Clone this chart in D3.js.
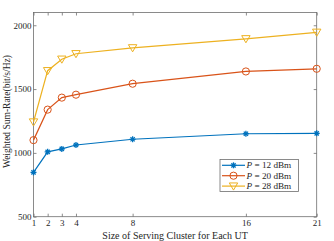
<!DOCTYPE html>
<html><head><meta charset="utf-8">
<script src="https://cdn.jsdelivr.net/npm/d3@7"></script>
<style>body{margin:0;background:#fff}svg{display:block}text{font-family:"Liberation Serif","Times New Roman",serif;fill:#262626}</style>
</head><body>
<script>
const clusterSizes = [1, 2, 3, 4, 8, 16, 21];
const seriesNames = ["12", "20", "28"];
const rateP12 = [847, 1008, 1031, 1062, 1107, 1150, 1153];
const rateP20 = [1100, 1339, 1433, 1456, 1542, 1638, 1659];
const rateP28 = [1242, 1644, 1734, 1777, 1823, 1894, 1945];
const xTicks = [1, 2, 3, 4, 8, 16, 21];
const yTicks = [500, 1000, 1500, 2000];
const colors = ["#0072BD", "#D95319", "#EDB120"];
const markers = ["asterisk", "circle", "triangle"];

const W = 334, H = 241;
const m = {l: 33.5, r: 17.3, t: 12.5, b: 24.3};
const svg = d3.select("body").append("svg").attr("width", W).attr("height", H);
const x = d3.scaleLinear().domain([1, 21]).range([m.l, W - m.r]);
const y = d3.scaleLinear().domain([500, 2100]).range([H - m.b, m.t]);
const axisColor = "#6e6e6e";

function styleAxis(g, showText) {
  g.select(".domain").remove();
  g.selectAll(".tick line").attr("stroke", axisColor).attr("stroke-width", 0.8);
  g.selectAll(".tick text").attr("font-size", 9).style("font-family", '"Liberation Serif",serif').attr("fill", "#262626");
  if (!showText) g.selectAll(".tick text").remove();
}
svg.append("g").attr("transform", `translate(0,${H - m.b})`)
  .call(d3.axisBottom(x).tickValues(xTicks).tickSize(-3).tickPadding(3).tickFormat(d3.format("d")))
  .call(g => styleAxis(g, true));
svg.append("g").attr("transform", `translate(0,${m.t})`)
  .call(d3.axisTop(x).tickValues(xTicks).tickSize(-3).tickFormat(""))
  .call(g => styleAxis(g, false));
svg.append("g").attr("transform", `translate(${m.l},0)`)
  .call(d3.axisLeft(y).tickValues(yTicks).tickSize(-3).tickPadding(2).tickFormat(d3.format("d")))
  .call(g => styleAxis(g, true));
svg.append("g").attr("transform", `translate(${W - m.r},0)`)
  .call(d3.axisRight(y).tickValues(yTicks).tickSize(-3).tickFormat(""))
  .call(g => styleAxis(g, false));
svg.append("rect").attr("x", m.l).attr("y", m.t).attr("width", W - m.r - m.l).attr("height", H - m.b - m.t)
  .attr("fill", "none").attr("stroke", axisColor).attr("stroke-width", 0.8);

svg.append("text").attr("x", (m.l + W - m.r) / 2).attr("y", 238.5).attr("text-anchor", "middle")
  .attr("font-size", 10).text("Size of Serving Cluster for Each UT");
svg.append("text").attr("transform", `translate(10,${(m.t + H - m.b) / 2 - 3}) rotate(-90)`).attr("text-anchor", "middle")
  .attr("font-size", 9.5).text("Weighted Sum-Rate(bit/s/Hz)");

function drawMarker(g, type, cx, cy, c) {
  if (type === "circle") {
    g.append("circle").attr("cx", cx).attr("cy", cy).attr("r", 3.6).attr("fill", "none").attr("stroke", c).attr("stroke-width", 1);
  } else if (type === "triangle") {
    const s = 4.2;
    g.append("path").attr("d", `M${cx - s},${cy - s * 0.75}L${cx + s},${cy - s * 0.75}L${cx},${cy + s * 0.95}Z`)
      .attr("fill", "none").attr("stroke", c).attr("stroke-width", 1);
  } else {
    const r = 3;
    for (let k = 0; k < 4; k++) {
      const a = k * Math.PI / 4;
      g.append("line").attr("x1", cx - r * Math.cos(a)).attr("y1", cy - r * Math.sin(a))
        .attr("x2", cx + r * Math.cos(a)).attr("y2", cy + r * Math.sin(a))
        .attr("stroke", c).attr("stroke-width", 1.3);
    }
    g.append("circle").attr("cx", cx).attr("cy", cy).attr("r", 1.5).attr("fill", c);
  }
}

const allSeries = [rateP12, rateP20, rateP28];
const line = d3.line().x((d, i) => x(clusterSizes[i])).y(d => y(d));
allSeries.forEach((vals, s) => {
  const g = svg.append("g");
  g.append("path").attr("d", line(vals)).attr("fill", "none").attr("stroke", colors[s]).attr("stroke-width", 1.2);
  vals.forEach((v, i) => drawMarker(g, markers[s], x(clusterSizes[i]), y(v), colors[s]));
});

// legend
const lg = svg.append("g");
lg.append("rect").attr("x", 220).attr("y", 159.5).attr("width", 78.5).attr("height", 32)
  .attr("fill", "#fff").attr("stroke", axisColor).attr("stroke-width", 0.8);
seriesNames.forEach((n, s) => {
  const yy = 165.3 + s * 10.4;
  lg.append("line").attr("x1", 222).attr("x2", 245).attr("y1", yy).attr("y2", yy).attr("stroke", colors[s]).attr("stroke-width", 1.2);
  drawMarker(lg, markers[s], 233.5, yy, colors[s]);
  const t = lg.append("text").attr("x", 246.5).attr("y", yy + 3).attr("font-size", 9.2);
  t.append("tspan").attr("font-style", "italic").text("P");
  t.append("tspan").text(` = ${n} dBm`);
});
</script>
</body></html>
